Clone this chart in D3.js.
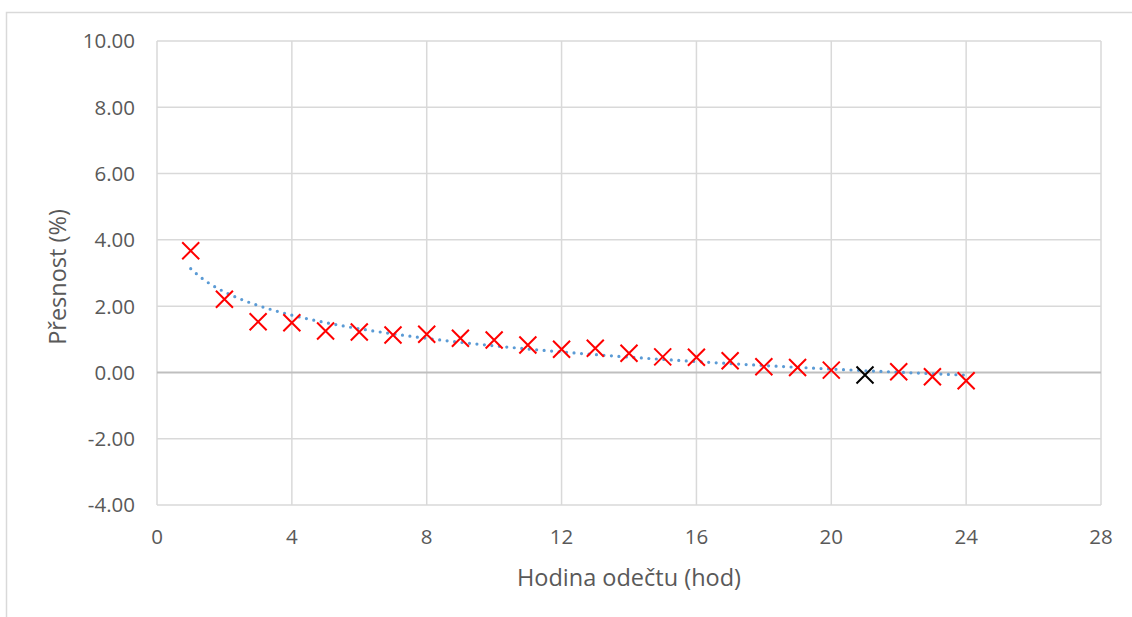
<!DOCTYPE html>
<html><head><meta charset="utf-8">
<script src="https://cdn.jsdelivr.net/npm/d3@7"></script>
<style>
html,body{margin:0;padding:0;background:#fff;}
svg{display:block;font-family:"Open Sans","Noto Sans",sans-serif;}
</style></head>
<body>
<svg id="c" width="1132" height="617"></svg>
<script>
// Data
const hours = [1,2,3,4,5,6,7,8,9,10,11,12,13,14,15,16,17,18,19,20,21,22,23,24];
const accuracy = [3.67,2.21,1.53,1.50,1.25,1.22,1.13,1.15,1.03,0.98,0.83,0.70,0.73,0.58,0.47,0.46,0.35,0.17,0.15,0.07,-0.08,0.02,-0.13,-0.25];
const highlightHour = 21; // black marker
const xTicks = [0,4,8,12,16,20,24,28];
const yTicks = [-4,-2,0,2,4,6,8,10];
const xTitle = "Hodina odečtu (hod)";
const yTitle = "Přesnost (%)";

const svg = d3.select("#c");
const L = 157, R = 1101, T = 41, B = 505;
const x = d3.scaleLinear().domain([0,28]).range([L,R]);
const y = d3.scaleLinear().domain([-4,10]).range([B,T]);

// outer chart border
svg.append("path").attr("d","M6.5,617 V12.5 H1132").attr("fill","none").attr("stroke","#d9d9d9").attr("stroke-width",1.5);

// gridlines
const g = svg.append("g");
g.selectAll(".gy").data(yTicks.filter(d=>d!==0)).join("line")
  .attr("x1",L).attr("x2",R).attr("y1",d=>y(d)).attr("y2",d=>y(d))
  .attr("stroke","#d9d9d9").attr("stroke-width",1.5);
g.selectAll(".gx").data(xTicks).join("line")
  .attr("y1",T).attr("y2",B).attr("x1",d=>x(d)).attr("x2",d=>x(d))
  .attr("stroke","#d9d9d9").attr("stroke-width",1.5);
// zero line
g.append("line").attr("x1",L).attr("x2",R).attr("y1",y(0)).attr("y2",y(0))
  .attr("stroke","#bfbfbf").attr("stroke-width",2);

// tick labels
const fmt = d => d3.format(".2f")(d).replace("\u2212","-");
svg.append("g").selectAll("text").data(yTicks).join("text")
  .attr("x",135).attr("y",d=>y(d)).attr("dy","0.36em")
  .attr("text-anchor","end").attr("fill","#595959").attr("font-size",20.5)
  .text(fmt);
svg.append("g").selectAll("text").data(xTicks).join("text")
  .attr("x",d=>x(d)).attr("y",544)
  .attr("text-anchor","middle").attr("fill","#595959").attr("font-size",20.5)
  .text(d=>d);

// axis titles
svg.append("text").attr("x",629).attr("y",586).attr("text-anchor","middle")
  .attr("fill","#595959").attr("font-size",23.5).text(xTitle);
svg.append("text").attr("transform","translate(66,277) rotate(-90)").attr("text-anchor","middle")
  .attr("fill","#595959").attr("font-size",23.5).text(yTitle);

// logarithmic trendline (least squares fit of the data)
const lx = hours.map(Math.log);
const mx = d3.mean(lx), my = d3.mean(accuracy);
const a = d3.sum(lx.map((v,i)=>(v-mx)*(accuracy[i]-my))) / d3.sum(lx.map(v=>(v-mx)*(v-mx)));
const b = my - a*mx;
const trendX = d3.range(1, 24.001, 0.25);
svg.append("path").datum(trendX)
  .attr("d", d3.line().x(d=>x(d)).y(d=>y(a*Math.log(d)+b)))
  .attr("fill","none").attr("stroke","#5b9bd5").attr("stroke-width",3.2)
  .attr("stroke-linecap","round").attr("stroke-dasharray","0 7.5");

// markers
const s = 8.5;
svg.append("g").selectAll("path").data(hours.map((h,i)=>({h,v:accuracy[i]}))).join("path")
  .attr("d",d=>{const cx=x(d.h), cy=y(d.v);return `M${cx-s},${cy-s}L${cx+s},${cy+s}M${cx-s},${cy+s}L${cx+s},${cy-s}`;})
  .attr("stroke",d=>d.h===highlightHour?"#000":"#ff0000").attr("stroke-width",2).attr("fill","none");
</script>
</body></html>
